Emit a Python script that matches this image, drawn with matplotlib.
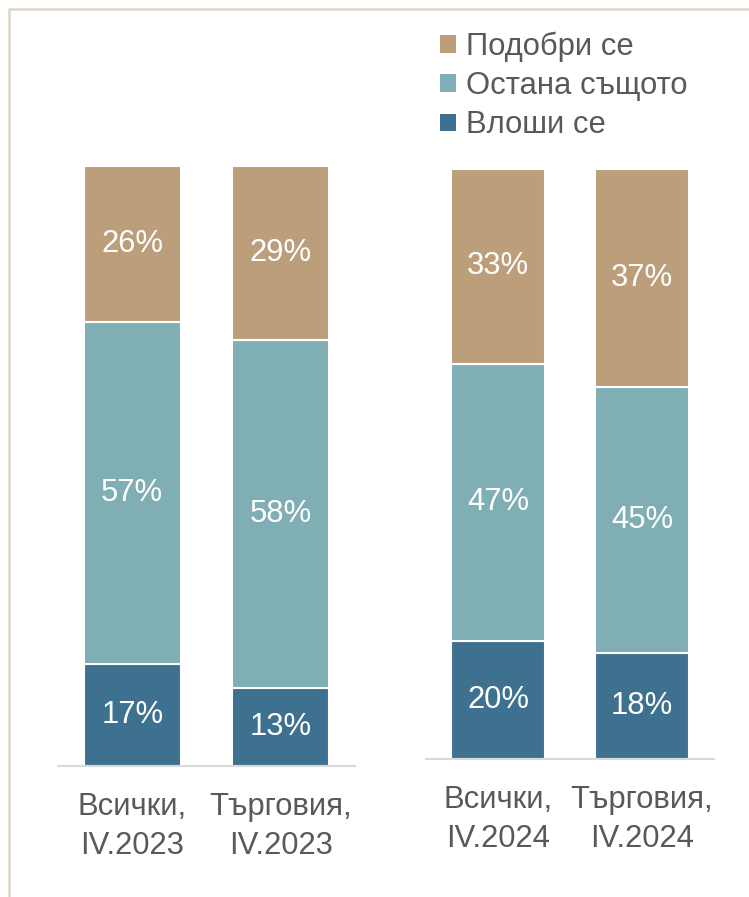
import matplotlib
matplotlib.use("Agg")
import matplotlib.pyplot as plt
from matplotlib.patches import Patch, Rectangle

plt.rcParams['font.family'] = ['Liberation Sans', 'DejaVu Sans']

series_names = ["Влоши се", "Остана същото", "Подобри се"]
colors = ["#3E708F", "#7FAEB5", "#BD9E7B"]

cats_2023 = ["Всички,\nIV.2023", "Търговия,\nIV.2023"]
worse_2023 = [17, 13]
same_2023 = [57, 58]
better_2023 = [26, 29]

cats_2024 = ["Всички,\nIV.2024", "Търговия,\nIV.2024"]
worse_2024 = [20, 18]
same_2024 = [47, 45]
better_2024 = [33, 37]

W, H = 749, 897
fig = plt.figure(figsize=(W / 100, H / 100), dpi=100)
text_color = "#595959"
fs = 22.3

def draw(ax, cats, worse, same, better):
    x = list(range(len(cats)))
    bottom = [0] * len(cats)
    for vals, col in zip([worse, same, better], colors):
        fr = [v / 100 for v in vals]
        ax.bar(x, fr, bottom=bottom, width=0.655, color=col,
               edgecolor="white", linewidth=1.5)
        for xi, b, f, v in zip(x, bottom, fr, vals):
            ax.text(xi, b + f / 2, f"{v}%", ha="center", va="center",
                    color="white", fontsize=fs)
        bottom = [b + f for b, f in zip(bottom, fr)]
    ax.set_xlim(-0.5, 1.5)
    ax.set_ylim(0, 1)
    ax.set_xticks(x)
    ax.set_xticklabels(cats, fontsize=fs, color=text_color, linespacing=1.36)
    ax.tick_params(axis="x", length=0, pad=19)
    ax.set_yticks([])
    for s in ["top", "right", "left"]:
        ax.spines[s].set_visible(False)
    ax.spines["bottom"].set_color("#D9D9D9")
    ax.spines["bottom"].set_linewidth(1.5)

ax1 = fig.add_axes([58 / W, 1 - 766 / H, 297 / W, 600 / H])
draw(ax1, cats_2023, worse_2023, same_2023, better_2023)
ax2 = fig.add_axes([426 / W, 1 - 759 / H, 288 / W, 590 / H])
draw(ax2, cats_2024, worse_2024, same_2024, better_2024)

handles = [Patch(facecolor=c, edgecolor="none") for c in colors[::-1]]
leg = fig.legend(handles, series_names[::-1], loc="upper left",
                 bbox_to_anchor=(428 / W, 1 - 19 / H), frameon=False,
                 fontsize=fs, handlelength=0.5, handleheight=0.5,
                 handletextpad=0.33, labelspacing=0.3, borderaxespad=0)
for t in leg.get_texts():
    t.set_color(text_color)

fig.add_artist(Rectangle((8.5 / W, -0.1), 1.2, 1 - 9.5 / H + 0.1,
                         transform=fig.transFigure, fill=False,
                         edgecolor="#E0D5C5", linewidth=1.8))

fig.savefig("out.png", dpi=100)
